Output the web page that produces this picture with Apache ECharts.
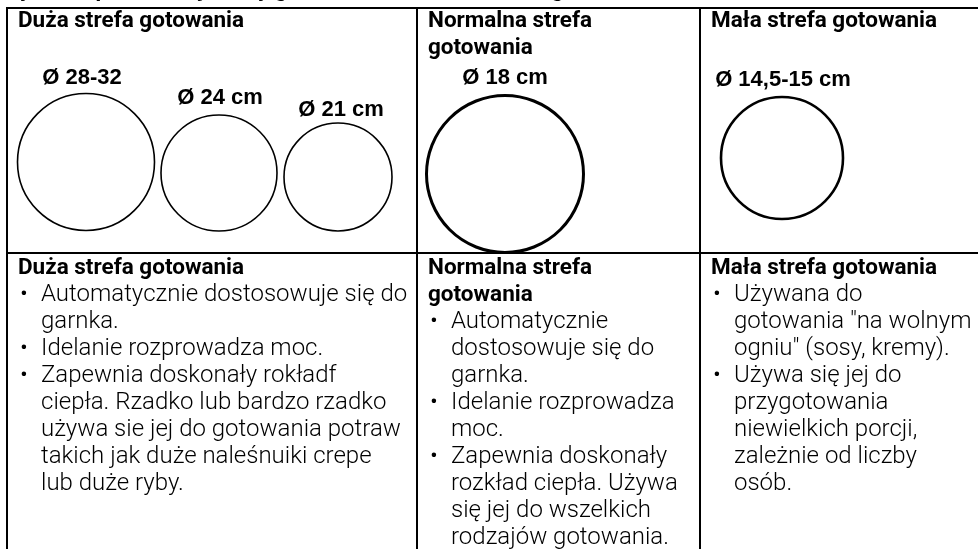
<!DOCTYPE html>
<html><head><meta charset="utf-8">
<script src="https://cdn.jsdelivr.net/npm/echarts@6/dist/echarts.min.js"></script>
<style>html,body{margin:0;padding:0;background:#fff}#c{width:978px;height:549px}</style>
</head><body><div id="c"></div>
<script>
// ---------- data ----------
const pageTitle = 'Wybór odpowiedniej strefy gotowania w zależności od garnka';
const zoneNames = [['Duża strefa gotowania'], ['Normalna strefa', 'gotowania'], ['Mała strefa gotowania']];
const diameterLabels = ['Ø 28-32', 'Ø 24 cm', 'Ø 21 cm', 'Ø 18 cm', 'Ø 14,5-15 cm'];
const descLarge = [
  ['Automatycznie dostosowuje się do', 'garnka.'],
  ['Idelanie rozprowadza moc.'],
  ['Zapewnia doskonały rokładf', 'ciepła. Rzadko lub bardzo rzadko', 'używa sie jej do gotowania potraw', 'takich jak duże naleśnuiki crepe', 'lub duże ryby.']
];
const descNormal = [
  ['Automatycznie', 'dostosowuje się do', 'garnka.'],
  ['Idelanie rozprowadza', 'moc.'],
  ['Zapewnia doskonały', 'rozkład ciepła. Używa', 'się jej do wszelkich', 'rodzajów gotowania.']
];
const descSmall = [
  ['Używana do', 'gotowania "na wolnym', 'ogniu" (sosy, kremy).'],
  ['Używa się jej do', 'przygotowania', 'niewielkich porcji,', 'zależnie od liczby', 'osób.']
];
const descriptions = [descLarge, descNormal, descSmall];

// ---------- layout (pixels) ----------
const W = 978, H = 549;
const colX = [7, 417, 700];
const tableTop = 8, midY = 253;
const lineH = 27, topHeadY = 21, lowHeadY = 268;
const headDx = 11, bulletDx = 13, textDx = 34;
const circleLayout = [
  {x: 86, y: 162, d: 137, w: 1.6, lx: 82, ly: 78},
  {x: 219, y: 173, d: 116, w: 1.6, lx: 220, ly: 98},
  {x: 338, y: 177, d: 108, w: 1.6, lx: 341, ly: 110},
  {x: 505, y: 174, d: 157, w: 3, lx: 505, ly: 78},
  {x: 782, y: 158, d: 122, w: 2.6, lx: 783, ly: 80}
];
const boldFont = 'bold 22.5px Roboto';
const bodyFont = '300 24px Roboto';
const labelFont = 'bold 22px "Liberation Sans", Arial, sans-serif';

// ---------- build items ----------
const segs = [
  [colX[0] - 1, tableTop, W, tableTop],
  [colX[0] - 1, midY, W, midY],
  [colX[0], tableTop, colX[0], H],
  [colX[1], tableTop, colX[1], H],
  [colX[2], tableTop, colX[2], H]
];
const texts = [];
texts.push({x: 0, y: -10, t: pageTitle, f: boldFont, a: 'left'});
zoneNames.forEach((lines, c) => {
  lines.forEach((ln, k) => {
    texts.push({x: colX[c] + headDx, y: topHeadY + k * lineH, t: ln, f: boldFont, a: 'left'});
  });
  let row = 0;
  lines.forEach((ln) => {
    texts.push({x: colX[c] + headDx, y: lowHeadY + row * lineH, t: ln, f: boldFont, a: 'left'});
    row++;
  });
  descriptions[c].forEach((group) => {
    group.forEach((ln, k) => {
      const y = lowHeadY + row * lineH;
      if (k === 0) texts.push({x: colX[c] + bulletDx, y: y, t: '•', f: bodyFont, a: 'left'});
      texts.push({x: colX[c] + textDx, y: y, t: ln, f: bodyFont, a: 'left'});
      row++;
    });
  });
});
diameterLabels.forEach((lab, i) => {
  texts.push({x: circleLayout[i].lx, y: circleLayout[i].ly, t: lab, f: labelFont, a: 'center'});
});

const chart = echarts.init(document.getElementById('c'), null, {renderer: 'canvas'});
chart.setOption({
  animation: false,
  backgroundColor: '#ffffff',
  grid: {left: 0, right: 0, top: 0, bottom: 0, containLabel: false},
  xAxis: {type: 'value', min: 0, max: W, show: false},
  yAxis: {type: 'value', min: 0, max: H, inverse: true, show: false},
  series: [
    {
      type: 'custom', name: 'rules', clip: false, silent: true,
      data: segs.map(s => [s[0], s[1]]),
      renderItem: function (params, api) {
        const s = segs[params.dataIndex];
        const p1 = api.coord([s[0], s[1]]), p2 = api.coord([s[2], s[3]]);
        return {type: 'line', shape: {x1: p1[0], y1: p1[1], x2: p2[0], y2: p2[1]},
          style: {stroke: '#000', lineWidth: 2}};
      }
    },
    {
      type: 'scatter', name: 'circles', silent: true, clip: false,
      symbol: 'circle',
      data: circleLayout.map(c => ({
        value: [c.x, c.y], symbolSize: c.d,
        itemStyle: {color: 'rgba(0,0,0,0)', borderColor: '#000', borderWidth: c.w, opacity: 1}
      }))
    },
    {
      type: 'custom', name: 'texts', clip: false, silent: true,
      data: texts.map(t => [t.x, t.y]),
      renderItem: function (params, api) {
        const t = texts[params.dataIndex];
        const p = api.coord([t.x, t.y]);
        return {type: 'text', x: p[0], y: p[1],
          style: {text: t.t, font: t.f, fill: '#000', align: t.a, verticalAlign: 'middle',
            textAlign: t.a, textVerticalAlign: 'middle'}};
      }
    }
  ]
});
</script></body></html>
